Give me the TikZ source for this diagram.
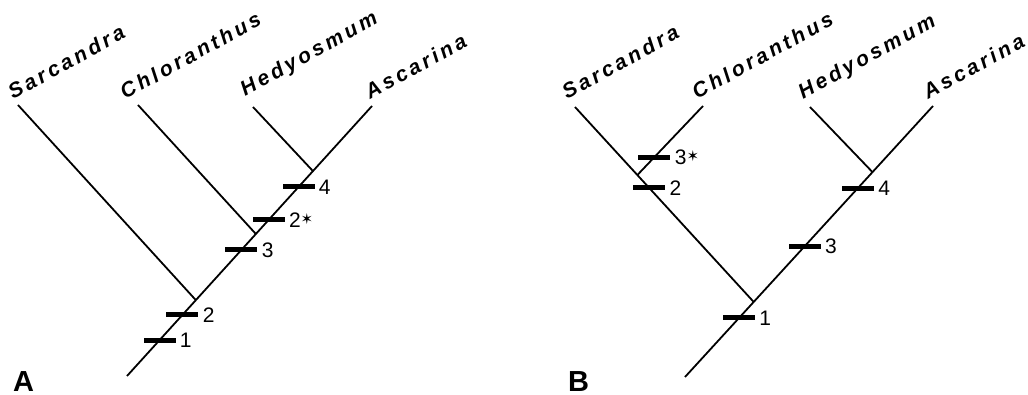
\documentclass[tikz,border=0pt]{standalone}
\usepackage{fontspec}
\setmainfont{Liberation Sans}
\newfontfamily\starfont{DejaVu Sans}
\usetikzlibrary{positioning,calc}

\newcommand{\starmark}{\raisebox{3pt}{\starfont\fontsize{15}{15}\selectfont ✶}}

\begin{document}
\begin{tikzpicture}[x=1pt, y=-1pt,
  branch/.style={line width=1.8pt},
  bar/.style={fill=black, minimum width=32pt, minimum height=5pt, inner sep=0pt},
  num/.style={inner sep=0pt, text height=15pt, text depth=0pt, font=\fontsize{21}{25}\selectfont},
  taxon/.style={anchor=base west, rotate=29, inner sep=0pt, font=\fontsize{21}{25}\selectfont\bfseries\itshape\addfontfeatures{LetterSpace=16}},
  panel/.style={anchor=base west, inner sep=0pt, font=\fontsize{29}{33}\selectfont\bfseries}
]
\useasboundingbox (0,0) rectangle (1028,395);

% tree A
\coordinate (rootA) at (127,376);
\coordinate (tSarA) at (18,105);
\coordinate (tChlA) at (138,105);
\coordinate (tHedA) at (253,107);
\coordinate (tAscA) at (372,106);
\coordinate (nSarA) at ($(rootA)!0.281!(tAscA)$);
\coordinate (nChlA) at ($(rootA)!0.526!(tAscA)$);
\coordinate (nHedA) at ($(rootA)!0.759!(tAscA)$);

\draw[branch] (rootA) -- (tAscA);
\draw[branch] (nSarA) -- (tSarA);
\draw[branch] (nChlA) -- (tChlA);
\draw[branch] (nHedA) -- (tHedA);

\node[bar] (b1A) at ($(rootA)!0.133!(tAscA)$) {};
\node[bar] (b2A) at ($(rootA)!0.226!(tAscA)$) {};
\node[bar] (b3A) at ($(rootA)!0.467!(tAscA)$) {};
\node[bar] (b2sA) at ($(rootA)!0.578!(tAscA)$) {};
\node[bar] (b4A) at ($(rootA)!0.700!(tAscA)$) {};
\node[num, right=4pt of b1A] {1};
\node[num, right=4pt of b2A] {2};
\node[num, right=4pt of b3A] {3};
\node[num, right=4pt of b2sA] {2\starmark};
\node[num, right=4pt of b4A] {4};

\node[taxon] (lSarA) at ($(tSarA)+(-5,-5)$) {Sarcandra};
\node[taxon] (lChlA) at ($(tChlA)+(-13,-5)$) {Chloranthus};
\node[taxon] (lHedA) at ($(tHedA)+(-8,-10)$) {Hedyosmum};
\node[taxon] (lAscA) at ($(tAscA)+(-2,-6)$) {Ascarina};

\node[panel] (pA) at (13,391) {A};

% tree B
\coordinate (rootB) at (685,377);
\coordinate (tSarB) at (575,107);
\coordinate (tChlB) at (703,106);
\coordinate (tHedB) at (810,107);
\coordinate (tAscB) at (933,106);
\coordinate (nBaseB) at ($(rootB)!0.277!(tAscB)$);
\coordinate (nRightB) at ($(rootB)!0.756!(tAscB)$);
\coordinate (nLeftB) at ($(nBaseB)!0.651!(tSarB)$);

\draw[branch] (rootB) -- (tAscB);
\draw[branch] (nBaseB) -- (tSarB);
\draw[branch] (nLeftB) -- (tChlB);
\draw[branch] (nRightB) -- (tHedB);

\node[bar] (b1B) at ($(rootB)!0.218!(tAscB)$) {};
\node[bar] (b3B) at ($(rootB)!0.483!(tAscB)$) {};
\node[bar] (b4B) at ($(rootB)!0.697!(tAscB)$) {};
\node[bar] (b2B) at ($(nBaseB)!0.585!(tSarB)$) {};
\node[bar] (b3sB) at ($(nLeftB)!0.26!(tChlB)$) {};
\node[num, right=4pt of b1B] {1};
\node[num, right=4pt of b3B] {3};
\node[num, right=4pt of b4B] {4};
\node[num, right=4pt of b2B] {2};
\node[num, right=4pt of b3sB] {3\starmark};

\node[taxon] (lSarB) at ($(tSarB)+(-8,-7)$) {Sarcandra};
\node[taxon] (lChlB) at ($(tChlB)+(-6,-6)$) {Chloranthus};
\node[taxon] (lHedB) at ($(tHedB)+(-7,-7)$) {Hedyosmum};
\node[taxon] (lAscB) at ($(tAscB)+(-5,-6)$) {Ascarina};

\node[panel] (pB) at (568,391) {B};
\end{tikzpicture}
\end{document}
